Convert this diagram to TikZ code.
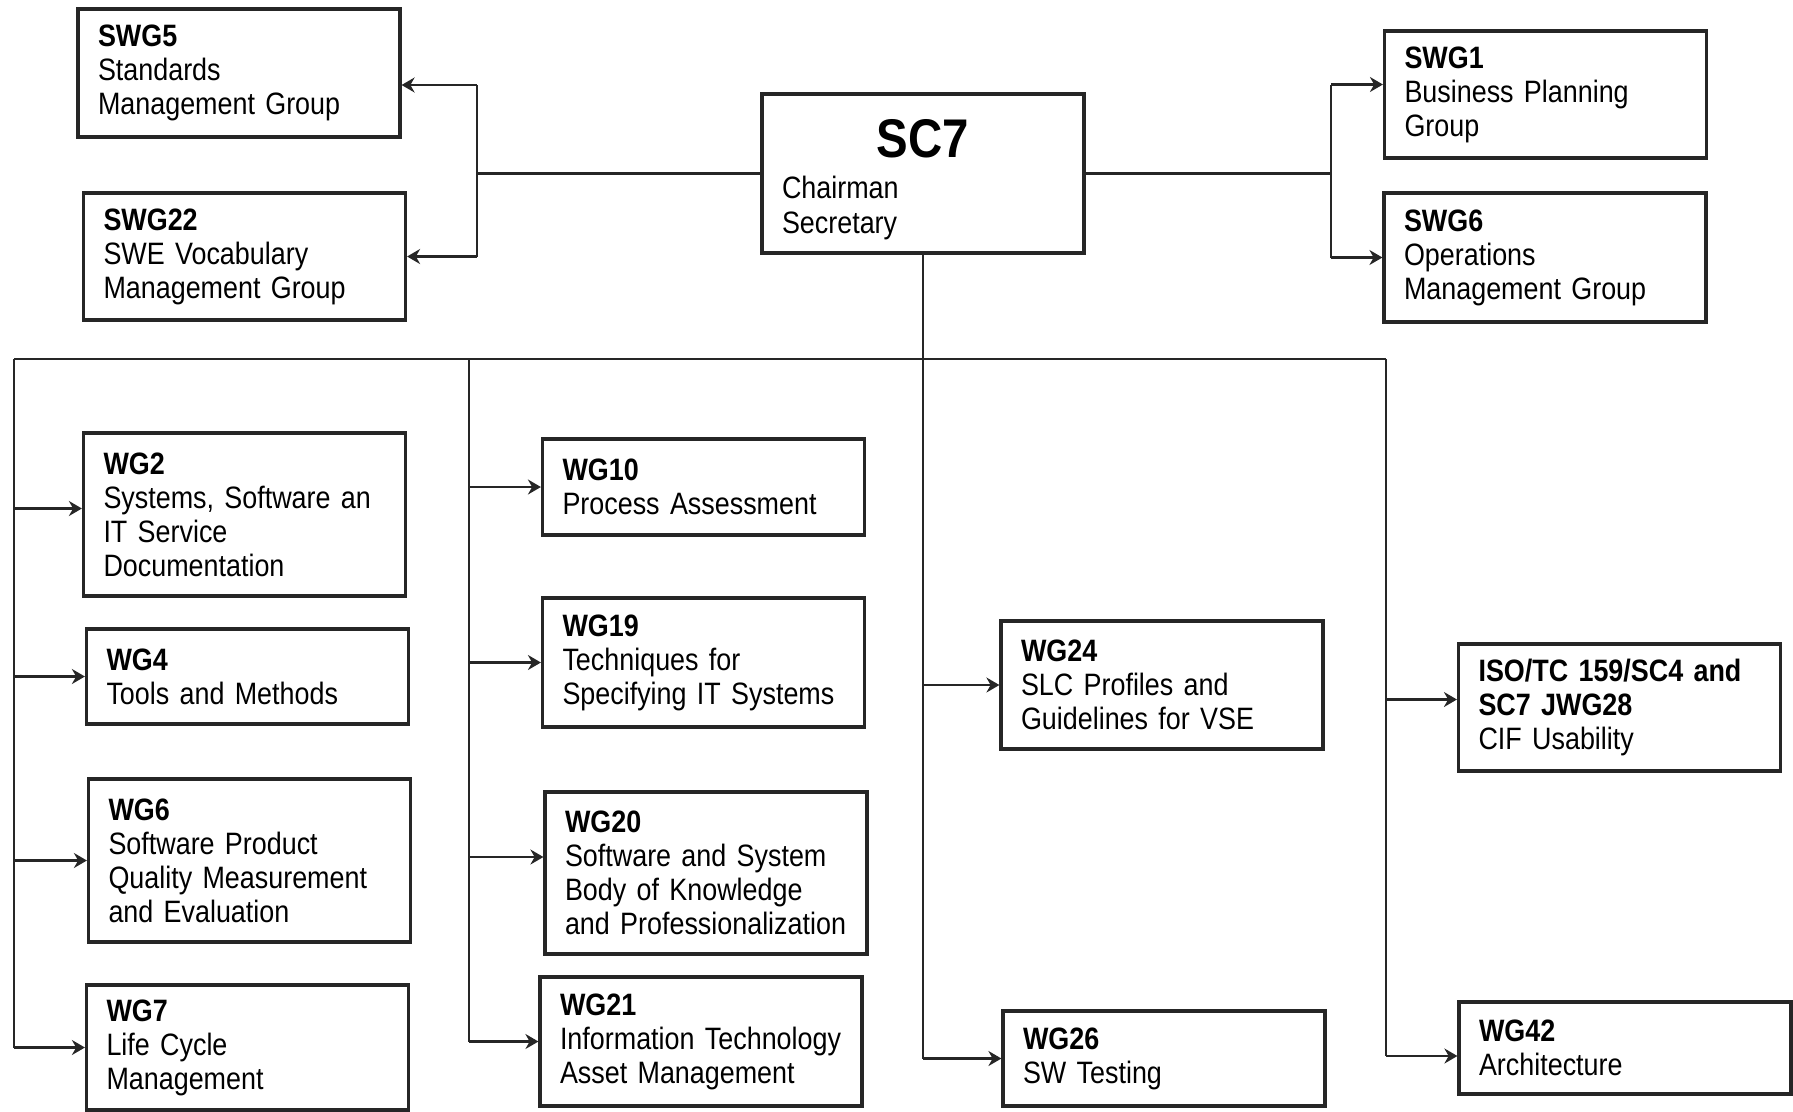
\documentclass[tikz,border=0pt]{standalone}
\usepackage{fontspec}
\setmainfont[FakeStretch=0.87]{Liberation Sans}
\usetikzlibrary{positioning, arrows.meta, calc}

\begin{document}
\begin{tikzpicture}[
        font=\fontsize{8.8}{9.7}\selectfont,
        wgbox/.style={draw=black!85, line width=0.9pt, rectangle, align=left, text width=2.82cm, inner xsep=0.2cm, inner ysep=0pt, minimum height=1.28cm},
        link/.style={draw=black!85, line width=0.8pt},
        arrow/.style={link, -{Stealth[length=1.3mm, width=1.5mm]}}
    ]
    \useasboundingbox (0,0) rectangle (17.93,-11.11);

    % Nodes
    \node [wgbox, minimum height=1.59cm] (sc7) at (9.23,-1.735) {\makebox[2.82cm]{\rule{0pt}{14.2pt}\fontsize{15.5}{18}\selectfont\bfseries SC7}\\[2.1pt]Chairman\\Secretary};

    \node [wgbox] (swg5) at (2.39,-0.73) {\textbf{SWG5}\\Standards\\Management Group};
    \node [wgbox, minimum height=1.27cm] (swg22) at (2.445,-2.565) {\textbf{SWG22}\\SWE Vocabulary\\Management Group};
    \node [wgbox, minimum height=1.27cm] (swg1) at (15.455,-0.945) {\textbf{SWG1}\\Business Planning\\Group};
    \node [wgbox, minimum height=1.29cm] (swg6) at (15.45,-2.575) {\textbf{SWG6}\\Operations\\Management Group};

    \node [wgbox, minimum height=1.63cm] (wg2) at (2.445,-5.145) {\textbf{WG2}\\Systems, Software an\\IT Service\\Documentation};
    \node [wgbox, minimum height=0.95cm] (wg4) at (2.475,-6.765) {\textbf{WG4}\\Tools and Methods};
    \node [wgbox, minimum height=1.63cm] (wg6) at (2.495,-8.605) {\textbf{WG6}\\Software Product\\Quality Measurement\\and Evaluation};
    \node [wgbox, minimum height=1.25cm] (wg7) at (2.475,-10.475) {\textbf{WG7}\\Life Cycle\\Management};

    \node [wgbox, minimum height=0.96cm] (wg10) at (7.035,-4.87) {\textbf{WG10}\\Process Assessment};
    \node [wgbox, minimum height=1.29cm] (wg19) at (7.035,-6.625) {\textbf{WG19}\\Techniques for\\Specifying IT Systems};
    \node [wgbox, minimum height=1.62cm] (wg20) at (7.06,-8.73) {\textbf{WG20}\\Software and System\\Body of Knowledge\\and Professionalization};
    \node [wgbox, minimum height=1.29cm] (wg21) at (7.01,-10.415) {\textbf{WG21}\\Information Technology\\Asset Management};

    \node [wgbox] (wg24) at (11.62,-6.85) {\textbf{WG24}\\SLC Profiles and\\Guidelines for VSE};
    \node [wgbox, minimum height=0.95cm] (wg26) at (11.64,-10.585) {\textbf{WG26}\\SW Testing};

    \node [wgbox, minimum height=1.27cm] (iso) at (16.195,-7.075) {\textbf{ISO/TC 159/SC4 and}\\\textbf{SC7 JWG28}\\CIF Usability};
    \node [wgbox, text width=2.92cm, minimum height=0.92cm] (wg42) at (16.25,-10.48) {\textbf{WG42}\\Architecture};

    % Bus and branch points
    \coordinate (lj) at (4.77,-1.735);
    \coordinate (rj) at (13.31,-1.735);
    \coordinate (busA) at (0.14,-3.59);
    \coordinate (busB) at (4.69,-3.59);
    \coordinate (busC) at (9.23,-3.59);
    \coordinate (busD) at (13.86,-3.59);

    % Lines
    \draw [link] (sc7.west) -- (lj);
    \draw [link] ([yshift=-0.12cm]lj |- swg5.east) -- (lj |- swg22.east);
    \draw [link] (sc7.east) -- (rj);
    \draw [link] ([yshift=0.1cm]rj |- swg1.west) -- (rj |- swg6.west);
    \draw [link] (sc7.south) -- (sc7.south |- wg26.west);
    \draw [link] (busA) -- (busD);
    \draw [link] (busA) -- (busA |- wg7.west);
    \draw [link] (busB) -- (busB |- wg21.west);
    \draw [link] (busD) -- ([yshift=-0.08cm]busD |- wg42.west);

    % Arrows
    \draw [arrow] ([yshift=-0.12cm]lj |- swg5.east) -- ([yshift=-0.12cm]swg5.east);
    \draw [arrow] (lj |- swg22.east) -- (swg22.east);
    \draw [arrow] ([yshift=0.1cm]rj |- swg1.west) -- ([yshift=0.1cm]swg1.west);
    \draw [arrow] (rj |- swg6.west) -- (swg6.west);

    \draw [arrow] ([yshift=0.06cm]busA |- wg2.west) -- ([yshift=0.06cm]wg2.west);
    \draw [arrow] (busA |- wg4.west) -- (wg4.west);
    \draw [arrow] (busA |- wg6.west) -- (wg6.west);
    \draw [arrow] (busA |- wg7.west) -- (wg7.west);

    \draw [arrow] (busB |- wg10.west) -- (wg10.west);
    \draw [arrow] (busB |- wg19.west) -- (wg19.west);
    \draw [arrow] ([yshift=0.16cm]busB |- wg20.west) -- ([yshift=0.16cm]wg20.west);
    \draw [arrow] (busB |- wg21.west) -- (wg21.west);

    \draw [arrow] (busC |- wg24.west) -- (wg24.west);
    \draw [arrow] (busC |- wg26.west) -- (wg26.west);

    \draw [arrow] ([yshift=0.08cm]busD |- iso.west) -- ([yshift=0.08cm]iso.west);
    \draw [arrow] ([yshift=-0.08cm]busD |- wg42.west) -- ([yshift=-0.08cm]wg42.west);

\end{tikzpicture}
\end{document}
